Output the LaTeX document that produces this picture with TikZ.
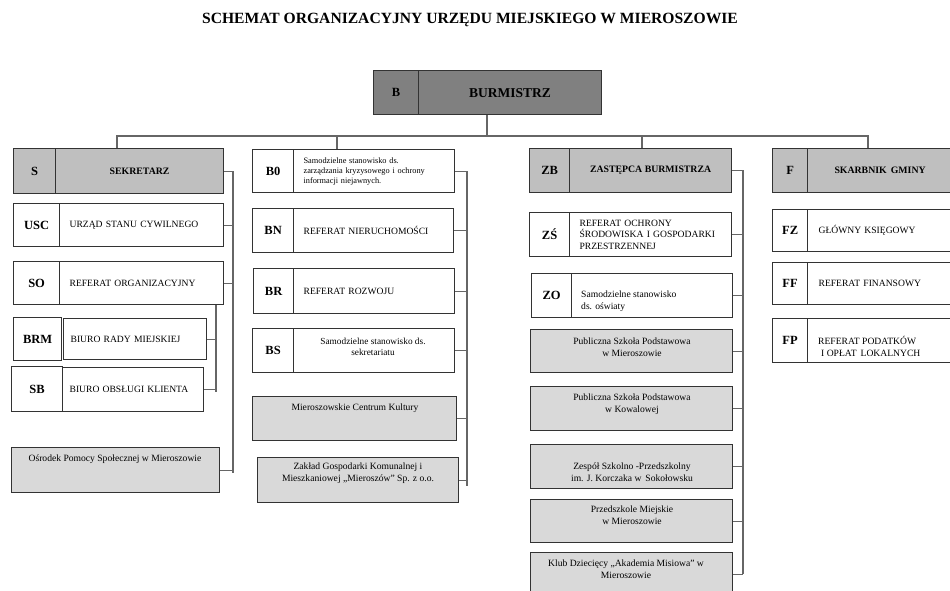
\documentclass[tikz,border=0pt]{standalone}
\usepackage{fontspec}
\setmainfont{Liberation Serif}
\usepackage{tikz}

\begin{document}
\begin{tikzpicture}[x=1pt,y=-1pt,
  outline/.style={draw=black!80,line width=1.2pt,fill=#1,anchor=north west,inner sep=0pt},
  code/.style={outline=#1,font=\fontsize{12.5}{14}\selectfont\bfseries},
  head/.style={outline=#1,font=\fontsize{9.8}{12}\selectfont\bfseries},
  cell/.style={outline=white,font=\fontsize{9.6}{11.5}\selectfont,align=left,inner xsep=10pt},
  txt/.style={font=\fontsize{9.6}{12}\selectfont,align=center,inner sep=0pt},
  link/.style={draw=black!60,line width=1.1pt}]
  \definecolor{boss}{rgb}{0.5,0.5,0.5}
  \definecolor{chief}{rgb}{0.75,0.75,0.75}
  \definecolor{unit}{rgb}{0.85,0.85,0.85}
  \useasboundingbox (0,0) rectangle (950,590);
  \clip (0,0) rectangle (950,590);

  \node[font=\fontsize{15.6}{17}\selectfont\bfseries] (title) at (470,20)
    {SCHEMAT ORGANIZACYJNY URZĘDU MIEJSKIEGO W MIEROSZOWIE};

  % burmistrz
  \node[code=boss,minimum width=45,minimum height=44] (b-code) at (373,70) {B};
  \node[head=boss,minimum width=183,minimum height=44,font=\fontsize{13.5}{15}\selectfont\bfseries] (b) at (418,70) {BURMISTRZ};

  % sekretarz
  \node[code=chief,minimum width=42,minimum height=45] (s-code) at (13,148) {S};
  \node[head=chief,minimum width=168,minimum height=45] (s) at (55,148) {SEKRETARZ};
  \node[code=white,minimum width=46,minimum height=43] (usc-code) at (13,203) {USC};
  \node[cell,text width=144pt,minimum height=43] (usc) at (59,203) {URZĄD STANU CYWILNEGO};
  \node[code=white,minimum width=46,minimum height=43] (so-code) at (13,261) {SO};
  \node[cell,text width=144pt,minimum height=43] (so) at (59,261) {REFERAT ORGANIZACYJNY};
  \node[code=white,minimum width=48,minimum height=43] (brm-code) at (13,317) {BRM};
  \node[cell,text width=129pt,minimum height=41,inner xsep=7pt] (brm) at (63,318) {BIURO RADY MIEJSKIEJ};
  \node[code=white,minimum width=51,minimum height=45] (sb-code) at (11,366) {SB};
  \node[cell,text width=127pt,minimum height=44,inner xsep=7pt] (sb) at (62,367) {BIURO OBSŁUGI KLIENTA};
  \node[outline=unit,minimum width=208,minimum height=45] (osr) at (11,447) {};
  \node[txt] (osr-t) at (115,459) {Ośrodek Pomocy Społecznej w Mieroszowie};

  % stanowiska podlegle burmistrzowi
  \node[code=white,minimum width=41,minimum height=43] (b0-code) at (252,149) {B0};
  \node[cell,text width=141pt,minimum height=43,font=\fontsize{8.3}{10}\selectfont] (b0) at (293,149)
    {Samodzielne stanowisko ds.\\zarządzania kryzysowego i ochrony\\informacji niejawnych.};
  \node[code=white,minimum width=41,minimum height=44] (bn-code) at (252,208) {BN};
  \node[cell,text width=140pt,minimum height=44] (bn) at (293,208) {REFERAT NIERUCHOMOŚCI};
  \node[code=white,minimum width=40,minimum height=45] (br-code) at (253,268) {BR};
  \node[cell,text width=141pt,minimum height=45] (br) at (293,268) {REFERAT ROZWOJU};
  \node[code=white,minimum width=41,minimum height=44] (bs-code) at (252,328) {BS};
  \node[outline=white,minimum width=161,minimum height=44] (bs) at (293,328) {};
  \node[txt,font=\fontsize{9.3}{11}\selectfont] (bs-t) at (373,347) {Samodzielne stanowisko ds.\\sekretariatu};
  \node[outline=unit,minimum width=204,minimum height=44] (ck) at (252,396) {};
  \node[txt] (ck-t) at (355,408) {Mieroszowskie Centrum Kultury};
  \node[outline=unit,minimum width=201,minimum height=45] (zgk) at (257,457) {};
  \node[txt] (zgk-t) at (358,473) {Zakład Gospodarki Komunalnej i\\Mieszkaniowej „Mieroszów” Sp. z o.o.};

  % zastepca
  \node[code=chief,minimum width=40,minimum height=44] (zb-code) at (529,148) {ZB};
  \node[head=chief,minimum width=162,minimum height=44] (zb) at (569,148) {ZASTĘPCA BURMISTRZA};
  \node[code=white,minimum width=40,minimum height=44] (zs-code) at (529,212) {ZŚ};
  \node[cell,text width=142pt,minimum height=44] (zs) at (569,212)
    {REFERAT OCHRONY\\ŚRODOWISKA I GOSPODARKI\\PRZESTRZENNEJ};
  \node[code=white,minimum width=40,minimum height=44] (zo-code) at (531,273) {ZO};
  \node[outline=white,minimum width=161,minimum height=44] (zo) at (571,273) {};
  \node[txt,align=left,anchor=west] (zo-t) at (581,301) {Samodzielne stanowisko\\ds. oświaty};
  \node[outline=unit,minimum width=202,minimum height=43] (psm) at (530,329) {};
  \node[txt] (psm-t) at (632,347) {Publiczna Szkoła Podstawowa\\w Mieroszowie};
  \node[outline=unit,minimum width=202,minimum height=44] (psk) at (530,386) {};
  \node[txt] (psk-t) at (632,404) {Publiczna Szkoła Podstawowa\\w Kowalowej};
  \node[outline=unit,minimum width=202,minimum height=44] (zsp) at (530,444) {};
  \node[txt] (zsp-t) at (632,472) {Zespół Szkolno -Przedszkolny\\im. J. Korczaka w\, Sokołowsku};
  \node[outline=unit,minimum width=202,minimum height=43] (prz) at (530,499) {};
  \node[txt] (prz-t) at (632,515) {Przedszkole Miejskie\\w Mieroszowie};
  \node[outline=unit,minimum width=202,minimum height=44] (klub) at (530,552) {};
  \node[txt] (klub-t) at (626,569) {Klub Dziecięcy „Akademia Misiowa” w\\Mieroszowie};

  % skarbnik
  \node[code=chief,minimum width=35,minimum height=44] (f-code) at (772,148) {F};
  \node[head=chief,minimum width=145,minimum height=44] (f) at (807,148) {SKARBNIK\, GMINY};
  \node[code=white,minimum width=35,minimum height=42] (fz-code) at (772,209) {FZ};
  \node[cell,text width=123pt,minimum height=42,inner xsep=11pt] (fz) at (807,209) {GŁÓWNY KSIĘGOWY};
  \node[code=white,minimum width=35,minimum height=42] (ff-code) at (772,262) {FF};
  \node[cell,text width=123pt,minimum height=42,inner xsep=11pt] (ff) at (807,262) {REFERAT FINANSOWY};
  \node[code=white,minimum width=35,minimum height=44] (fp-code) at (772,318) {FP};
  \node[outline=white,minimum width=145,minimum height=44] (fp) at (807,318) {};
  \node[txt,align=left,anchor=west] (fp-t) at (818,346)
    {REFERAT PODATKÓW\\\hspace*{3pt}I OPŁAT\, LOKALNYCH};

  % polaczenia
  \coordinate (hub) at (487,136);
  \coordinate (ds) at (117,136);
  \coordinate (db) at (337,136);
  \coordinate (dz) at (642,136);
  \coordinate (df) at (868,136);
  \draw[link] (hub |- b.south) -- (hub);
  \draw[link] (ds |- s.north) -- (ds) -- (df) -- (df |- f.north);
  \draw[link] (db) -- (db |- b0.north);
  \draw[link] (dz) -- (dz |- zb.north);

  \coordinate (sbus) at (233,473);
  \draw[link] (s.east) -| (sbus);
  \foreach \n in {usc,so,osr}
    \draw[link] (\n.east) -- (\n.east -| sbus);
  \coordinate (sobus) at (216,392);
  \draw[link] (so.south -| sobus) -- (sobus);
  \foreach \n in {brm,sb}
    \draw[link] (\n.east) -- (\n.east -| sobus);

  \coordinate (bbus) at (467,486);
  \draw[link] (b0.east) -| (bbus);
  \foreach \n in {bn,br,bs,ck,zgk}
    \draw[link] (\n.east) -- (\n.east -| bbus);

  \coordinate (zbus) at (743,574);
  \draw[link] (zb.east) -| (zbus);
  \foreach \n in {zs,zo,psm,psk,zsp,prz,klub}
    \draw[link] (\n.east) -- (\n.east -| zbus);
\end{tikzpicture}
\end{document}
